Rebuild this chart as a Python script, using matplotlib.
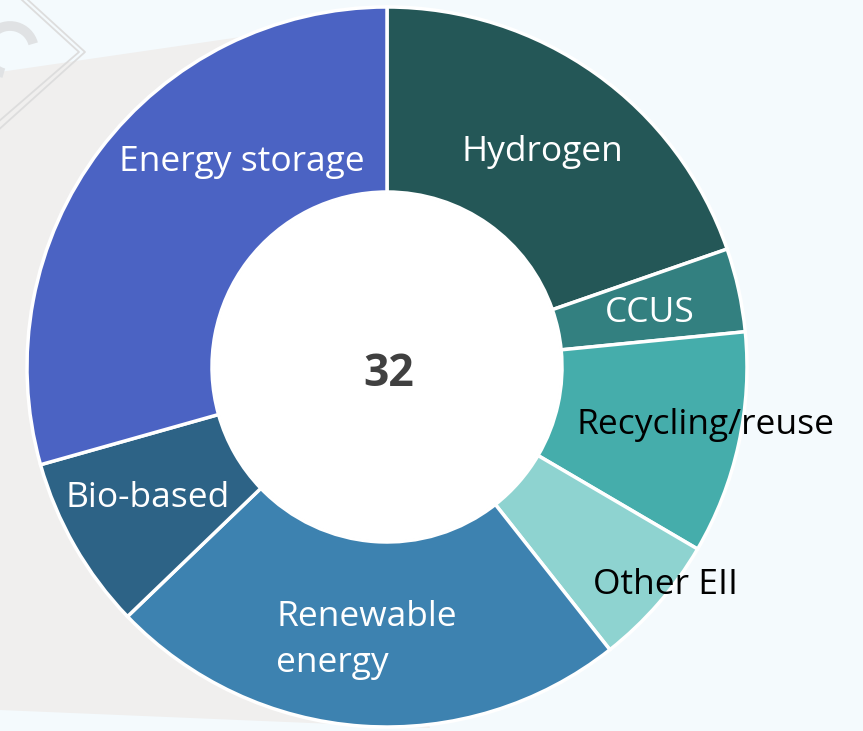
import matplotlib.pyplot as plt
from matplotlib.patches import Polygon, Circle, Arc

# categories clockwise from 12 o'clock
labels = ["Hydrogen", "CCUS", "Recycling/reuse", "Other EII",
          "Renewable\nenergy", "Bio-based", "Energy storage"]
values = [6.3, 1.2, 3.2, 1.9, 7.5, 2.5, 9.4]
total = 32
colors = ["#245757", "#338080", "#45ADAB", "#8ED3D0",
          "#3D82B0", "#2D6386", "#4B63C3"]
text_colors = ["white", "white", "black", "black", "white", "white", "white"]

W, H = 863, 731
fig = plt.figure(figsize=(W / 100, H / 100), dpi=100)
fig.patch.set_facecolor("#F4FAFD")
ax = fig.add_axes([0, 0, 1, 1])

cx, cy, r = 387, H - 367, 360

# grey background band behind the donut (right part hidden by the donut)
ax.add_patch(Polygon([(0, H - 72), (330, H - 24), (300, H - 400), (430, H - 728), (0, H - 710)],
                     closed=True, facecolor="#F0EFEE", edgecolor="none", zorder=0))
# faint watermark
for off in (0, 6):
    ax.plot([28 - off, 85 - off, -5], [H, H - 52, H - 133 + off * 1.4],
            color="#DDDDDD", lw=1.3, zorder=0.5)
ax.add_patch(Arc((10, H - 50), 48, 48, angle=-45, theta1=60, theta2=300,
                 color="#E0E2E4", lw=7, zorder=0.5))

wedges, _ = ax.pie(values, startangle=90, counterclock=False, colors=colors,
                   center=(cx, cy), radius=r,
                   wedgeprops=dict(width=185, edgecolor="white", linewidth=2.5))
ax.add_patch(Circle((cx, cy), 174, facecolor="white", edgecolor="none", zorder=3))

font = "Open Sans"
pos = [(542, 152), (650, 313), (705, 425), (665, 585), (276, 640), (148, 498), (242, 162)]
for lab, (x, y), tc in zip(labels, pos, text_colors):
    ha = "left" if "\n" in lab else "center"
    ax.text(x, H - y, lab, ha=ha, va="center", color=tc, fontsize=25.5,
            family=font, linespacing=1.45, zorder=5)

ax.text(cx + 2, H - 375, str(total), ha="center", va="center", fontsize=32,
        fontweight="bold", color="#404040", family=font, zorder=5)

ax.set_xlim(0, W)
ax.set_ylim(0, H)
ax.set_aspect("equal")
ax.axis("off")
fig.savefig("out.png", dpi=100, facecolor=fig.get_facecolor())
